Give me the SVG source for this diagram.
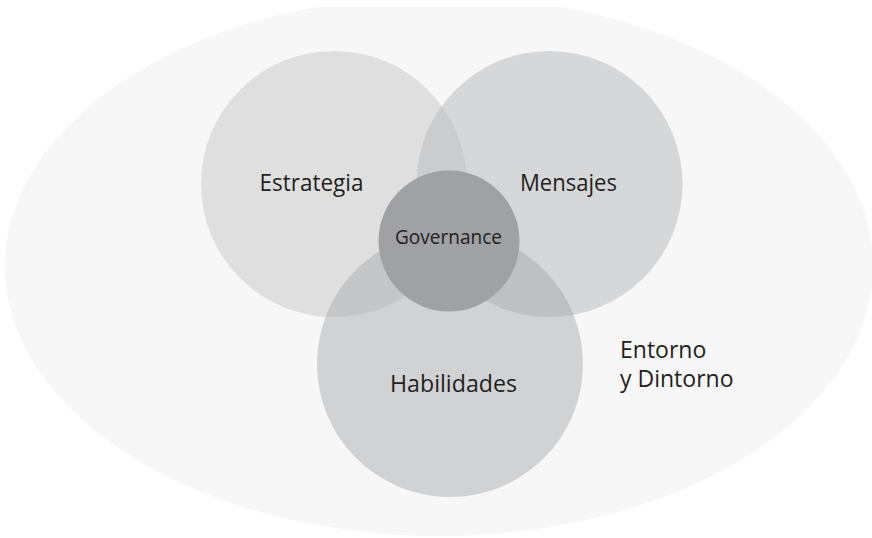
<svg xmlns="http://www.w3.org/2000/svg" width="872" height="538" viewBox="0 0 872 538">
<defs>
<style>
.lbl{font-family:"Open Sans","Noto Sans","Liberation Sans",sans-serif;font-size:24px;fill:#231f20;}
.gov{font-size:19.5px;}
.env{font-size:23px;}
</style>
<clipPath id="clipTop"><rect x="0" y="7" width="872" height="531"/></clipPath>
<clipPath id="clipE"><circle cx="334" cy="184" r="133"/></clipPath>
<clipPath id="clipM"><circle cx="549.5" cy="184" r="133"/></clipPath>
</defs>
<rect width="872" height="538" fill="#ffffff"/>
<g id="entorno">
<ellipse cx="439" cy="266" rx="434" ry="270" fill="#f7f7f7" clip-path="url(#clipTop)"/>
<text class="lbl env"><tspan x="620" y="357.5">Entorno</tspan><tspan x="620" y="386.5">y Dintorno</tspan></text>
</g>
<g id="estrategia">
<circle cx="334" cy="184" r="133" fill="#dfdfe0"/>
</g>
<g id="mensajes">
<circle cx="549.5" cy="184" r="133" fill="#d6d7d8"/>
<circle cx="549.5" cy="184" r="133" fill="#cbcccd" clip-path="url(#clipE)"/>
</g>
<g id="habilidades">
<circle cx="450" cy="364" r="133" fill="#d1d2d3"/>
<circle cx="450" cy="364" r="133" fill="#c5c6c8" clip-path="url(#clipE)"/>
<circle cx="450" cy="364" r="133" fill="#bfc0c2" clip-path="url(#clipM)"/>
</g>
<g id="labels">
<text class="lbl" x="259.5" y="190.5" textLength="104" lengthAdjust="spacingAndGlyphs">Estrategia</text>
<text class="lbl" x="520" y="190.5" textLength="97" lengthAdjust="spacingAndGlyphs">Mensajes</text>
<text class="lbl" x="390" y="391.5" textLength="127" lengthAdjust="spacingAndGlyphs">Habilidades</text>
</g>
<g id="governance">
<circle cx="449" cy="241" r="70.5" fill="#a0a1a4"/>
<text class="lbl gov" x="395" y="244" textLength="107" lengthAdjust="spacingAndGlyphs">Governance</text>
</g>
<g id="connectors"></g>
</svg>
